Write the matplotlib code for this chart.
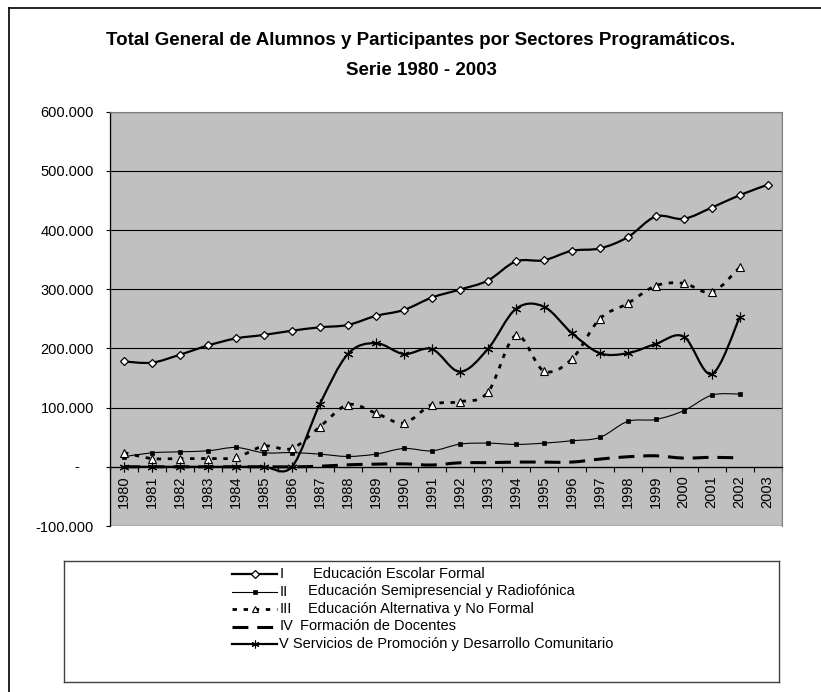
import matplotlib
matplotlib.use('Agg')
import matplotlib.pyplot as plt
from matplotlib.path import Path
from matplotlib.patches import PathPatch, Rectangle
from matplotlib.lines import Line2D
from matplotlib.ticker import FixedLocator, FuncFormatter

plt.rcParams['font.family'] = ['Liberation Sans', 'DejaVu Sans']

# datos
years = [str(y) for y in range(1980, 2004)]
s1 = [178000, 176000, 189500, 205000, 217000, 222800, 230000, 235700, 239700, 255000,
      265000, 286000, 299500, 314700, 347000, 349000, 365000, 369000, 388000, 423000,
      419000, 438000, 459000, 476600]
s2 = [17000, 23700, 25400, 27000, 32700, 23700, 24000, 21400, 17500, 21400,
      31000, 27000, 38300, 40000, 37800, 40000, 44000, 49600, 76700, 80000,
      94800, 121000, 123000]
s3 = [24000, 14000, 14000, 14000, 15800, 35000, 31000, 67700, 105000, 90800,
      74000, 105000, 110000, 125700, 222000, 162000, 182000, 250000, 276000, 306000,
      310000, 295000, 337000]
s4 = [0, 0, 0, 0, 0, 0, 0, 1000, 3400, 4500,
      5000, 3000, 6800, 7000, 8000, 8000, 8000, 13000, 17000, 18600,
      14700, 16000, 15000]
s5 = [0, 0, 0, 0, 0, 0, 0, 106000, 190600, 209000,
      190600, 199000, 160700, 199000, 266800, 270700, 226000, 192000, 192000, 207600,
      220000, 156800, 252600]

labels_num = ['I', 'II', 'III', 'IV', '']
labels_txt = ['Educación Escolar Formal',
              'Educación Semipresencial y Radiofónica',
              'Educación Alternativa y No Formal',
              'Formación de Docentes',
              'V Servicios de Promoción y Desarrollo Comunitario']
title = 'Total General de Alumnos y Participantes por Sectores Programáticos.\nSerie 1980 - 2003'
yticks = [-100000, 0, 100000, 200000, 300000, 400000, 500000, 600000]

W, H = 821, 692


def smooth_path(xs, ys):
    # curva suavizada tipo Excel (Bezier por tramos)
    pts = list(zip(xs, ys))
    n = len(pts)
    verts = [pts[0]]
    codes = [Path.MOVETO]
    for i in range(n - 1):
        p0 = pts[i - 1] if i > 0 else pts[i]
        p1 = pts[i]
        p2 = pts[i + 1]
        p3 = pts[i + 2] if i + 2 < n else pts[i + 1]
        c1 = (p1[0] + (p2[0] - p0[0]) / 6, p1[1] + (p2[1] - p0[1]) / 6)
        c2 = (p2[0] - (p3[0] - p1[0]) / 6, p2[1] - (p3[1] - p1[1]) / 6)
        verts += [c1, c2, p2]
        codes += [Path.CURVE4] * 3
    return Path(verts, codes)


styles = [
    dict(lw=1.6, ls='-', marker='D', ms=4.5, mfc='white', mew=0.9),
    dict(lw=0.8, ls='-', marker='s', ms=3.2, mfc='black', mew=0.5),
    dict(lw=2.0, ls=(0, (1.6, 2.4)), marker='^', ms=5.5, mfc='white', mew=0.8),
    dict(lw=2.2, ls=(0, (5.2, 2.9)), marker=None, ms=0, mfc='black', mew=0),
    dict(lw=1.6, ls='-', marker=(6, 2, 0), ms=7, mfc='black', mew=0.8),
]
series = [s1, s2, s3, s4, s5]

fig = plt.figure(figsize=(W / 100, H / 100), dpi=100)
fig.patch.set_facecolor('white')

# borde exterior
fig.add_artist(Line2D([9 / W, 1], [1 - 8 / H, 1 - 8 / H], color='black', lw=1.2, transform=fig.transFigure))
fig.add_artist(Line2D([9 / W, 9 / W], [0, 1 - 8 / H], color='black', lw=1.2, transform=fig.transFigure))

left, right, top, bottom = 110, 781.7, 111.7, 526
ax = fig.add_axes([left / W, 1 - bottom / H, (right - left) / W, (bottom - top) / H])
ax.set_facecolor('#C0C0C0')
ax.set_xlim(-0.5, len(years) - 0.5)
ax.set_ylim(-100000, 600000)

for s, st in zip(series, styles):
    xs = list(range(len(s)))
    ax.add_patch(PathPatch(smooth_path(xs, s), fill=False, lw=st['lw'], ls=st['ls'],
                           ec='black', zorder=3, capstyle='butt'))
    if st['marker'] is not None:
        ax.plot(xs, s, ls='none', marker=st['marker'], ms=st['ms'], mfc=st['mfc'],
                mec='black', mew=st['mew'], zorder=4)

# ejes
ax.set_yticks(yticks)
ax.yaxis.set_major_formatter(FuncFormatter(lambda v, p: '' if v == 0 else f'{int(v):,}'.replace(',', '.')))
ax.tick_params(axis='y', direction='out', length=3, width=0.8, labelsize=10.5, pad=8.5)
ax.annotate('-', xy=(0, 0), xycoords=('axes fraction', 'data'), xytext=(-33, 0),
            textcoords='offset pixels', ha='center', va='center', fontsize=10.5)
ax.yaxis.grid(True, color='black', lw=0.8)
ax.set_axisbelow(True)

ax.spines['bottom'].set_position(('data', 0))
ax.spines['bottom'].set_color('black')
ax.spines['bottom'].set_linewidth(0.9)
ax.spines['left'].set_color('black')
ax.spines['left'].set_linewidth(0.9)
ax.spines['top'].set_color('#808080')
ax.spines['right'].set_color('#808080')
ax.add_patch(Rectangle((0, 0), 1, 1, transform=ax.transAxes, fill=False, ec='#808080', lw=1.0, zorder=1))

ax.xaxis.set_major_locator(FixedLocator([i + 0.5 for i in range(-1, len(years))]))
ax.xaxis.set_major_formatter(FuncFormatter(lambda v, p: ''))
ax.xaxis.set_minor_locator(FixedLocator(list(range(len(years)))))
ax.set_xticklabels(years, minor=True, rotation=90, fontsize=10.5)
ax.tick_params(axis='x', which='major', direction='out', length=3.5, width=0.8)
ax.tick_params(axis='x', which='minor', length=0, pad=6)

fig.text(421 / W, 1 - 55.5 / H, title, ha='center', va='center', fontsize=13.5,
         fontweight='bold', linespacing=1.95)

# leyenda
lx0, lx1, ly0, ly1 = 64, 779, 561, 682
lax = fig.add_axes([lx0 / W, 1 - ly1 / H, (lx1 - lx0) / W, (ly1 - ly0) / H])
lax.set_xlim(lx0, lx1)
lax.set_ylim(ly1, ly0)
lax.set_xticks([])
lax.set_yticks([])
for sp in lax.spines.values():
    sp.set_color('#404040')
    sp.set_linewidth(1.0)

row_y = [574, 591.5, 609, 626.5, 644]
txt_x = [313, 307.5, 307.5, 300, 279]
for k, st in enumerate(styles):
    y = row_y[k]
    lax.plot([232, 277], [y, y], color='black', lw=st['lw'], ls=st['ls'], dash_capstyle='butt')
    if st['marker'] is not None:
        lax.plot([254.5], [y], ls='none', marker=st['marker'], ms=st['ms'] * 0.8, mfc=st['mfc'],
                 mec='black', mew=st['mew'])
    if labels_num[k]:
        lax.text(280, y, labels_num[k], ha='left', va='center', fontsize=10.5)
    lax.text(txt_x[k], y, labels_txt[k], ha='left', va='center', fontsize=10.5)

fig.savefig('out.png', dpi=100)
